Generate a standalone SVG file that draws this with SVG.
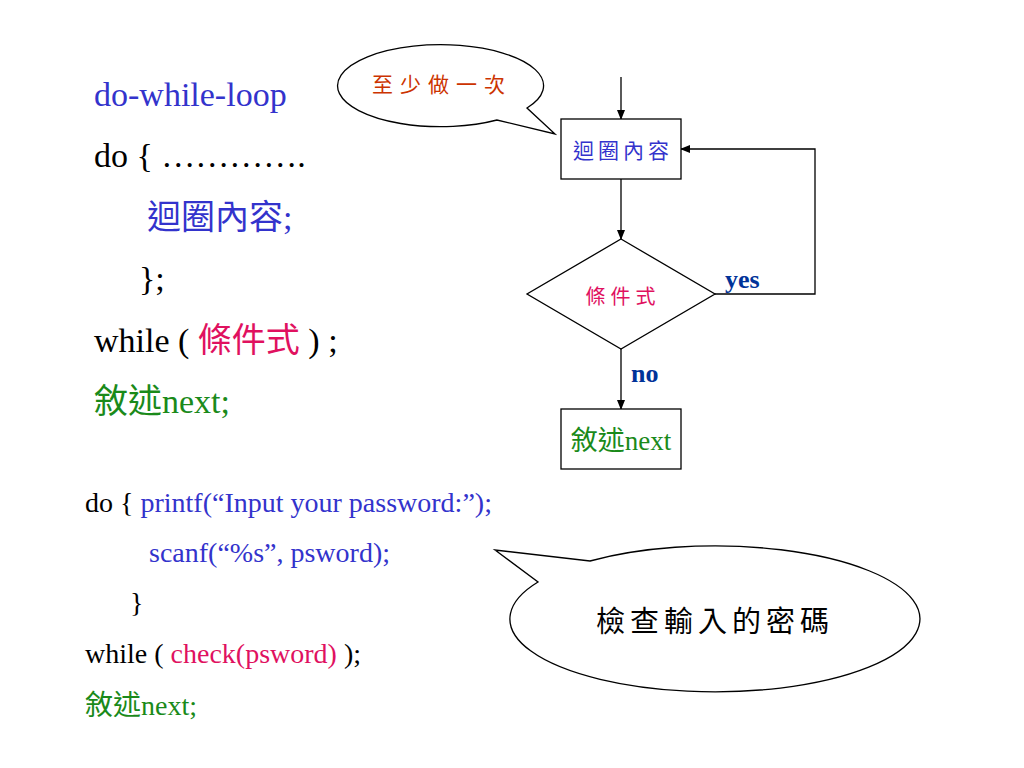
<svg xmlns="http://www.w3.org/2000/svg" width="1024" height="768" viewBox="0 0 1024 768">
<defs>
<marker id="arr" markerWidth="10" markerHeight="8" refX="9" refY="4" orient="auto" markerUnits="userSpaceOnUse">
<path d="M0,0 L10,4 L0,8 Z" fill="#000"/>
</marker>
<style>
.t{font-family:"Liberation Serif","Noto Sans CJK TC",serif;}
.big{font-size:34px;}
.sm{font-size:28px;}
.blue{fill:#3333CC;}
.blk{fill:#000;}
.red{fill:#E0115F;}
.grn{fill:#1A8A1A;}
.shape{fill:#fff;stroke:#000;stroke-width:1.3;}
.line{fill:none;stroke:#000;stroke-width:1.3;}
.lbl{font-family:"Liberation Serif",serif;font-weight:bold;font-size:26px;fill:#003399;}
</style>
</defs>
<rect width="1024" height="768" fill="#fff"/>

<g id="code-top" class="t big">
<text x="94" y="106" class="blue">do-while-loop</text>
<text x="94" y="167" class="blk">do { ………….</text>
<text x="147" y="229" class="blue">迴圈內容;</text>
<text x="139" y="290" class="blk">};</text>
<text x="94" y="352" class="blk">while ( <tspan class="red">條件式</tspan> ) ;</text>
<text x="94" y="413" class="grn">敘述next;</text>
</g>

<g id="code-bottom" class="t sm">
<text x="85" y="512" class="blk">do { <tspan class="blue">printf(“Input your password:”);</tspan></text>
<text x="149" y="562" class="blue">scanf(“%s”, psword);</text>
<text x="130" y="612" class="blk">}</text>
<text x="85" y="663" class="blk">while ( <tspan class="red">check(psword)</tspan> );</text>
<text x="85" y="715" class="grn">敘述next;</text>
</g>

<g id="callout-once">
<path class="shape" d="M527,108 A103,41 0 1 0 497,120 L555,134 Z"/>
<text x="442" y="92" class="t" font-size="21" letter-spacing="7" fill="#CC3300" text-anchor="middle">至少做一次</text>
</g>

<g id="callout-check">
<path class="shape" d="M590,561 A205,73 0 1 1 538,582 L495,550 Z"/>
<text x="715" y="632" class="t" font-size="29" letter-spacing="5" fill="#000" text-anchor="middle">檢查輸入的密碼</text>
</g>

<g id="connectors">
<line class="line" x1="621" y1="77" x2="621" y2="119" marker-end="url(#arr)"/>
<line class="line" x1="621" y1="179" x2="621" y2="239" marker-end="url(#arr)"/>
<polyline class="line" points="715,294 815,294 815,149 681,149" marker-end="url(#arr)"/>
<line class="line" x1="621" y1="349" x2="621" y2="409" marker-end="url(#arr)"/>
<text x="725" y="288" class="lbl">yes</text>
<text x="631" y="382" class="lbl">no</text>
</g>

<g id="node-body">
<rect class="shape" x="561" y="119" width="120" height="60"/>
<text x="623" y="158" class="t" font-size="21" letter-spacing="4" fill="#3333CC" text-anchor="middle">迴圈內容</text>
</g>

<g id="node-cond">
<polygon class="shape" points="621,239 715,294 621,349 527,294"/>
<text x="623" y="304" class="t" font-size="20" letter-spacing="5" fill="#E0115F" text-anchor="middle">條件式</text>
</g>

<g id="node-next">
<rect class="shape" x="561" y="409" width="120" height="60"/>
<text x="621" y="450" class="t" font-size="27" fill="#1A8A1A" text-anchor="middle">敘述next</text>
</g>
</svg>
